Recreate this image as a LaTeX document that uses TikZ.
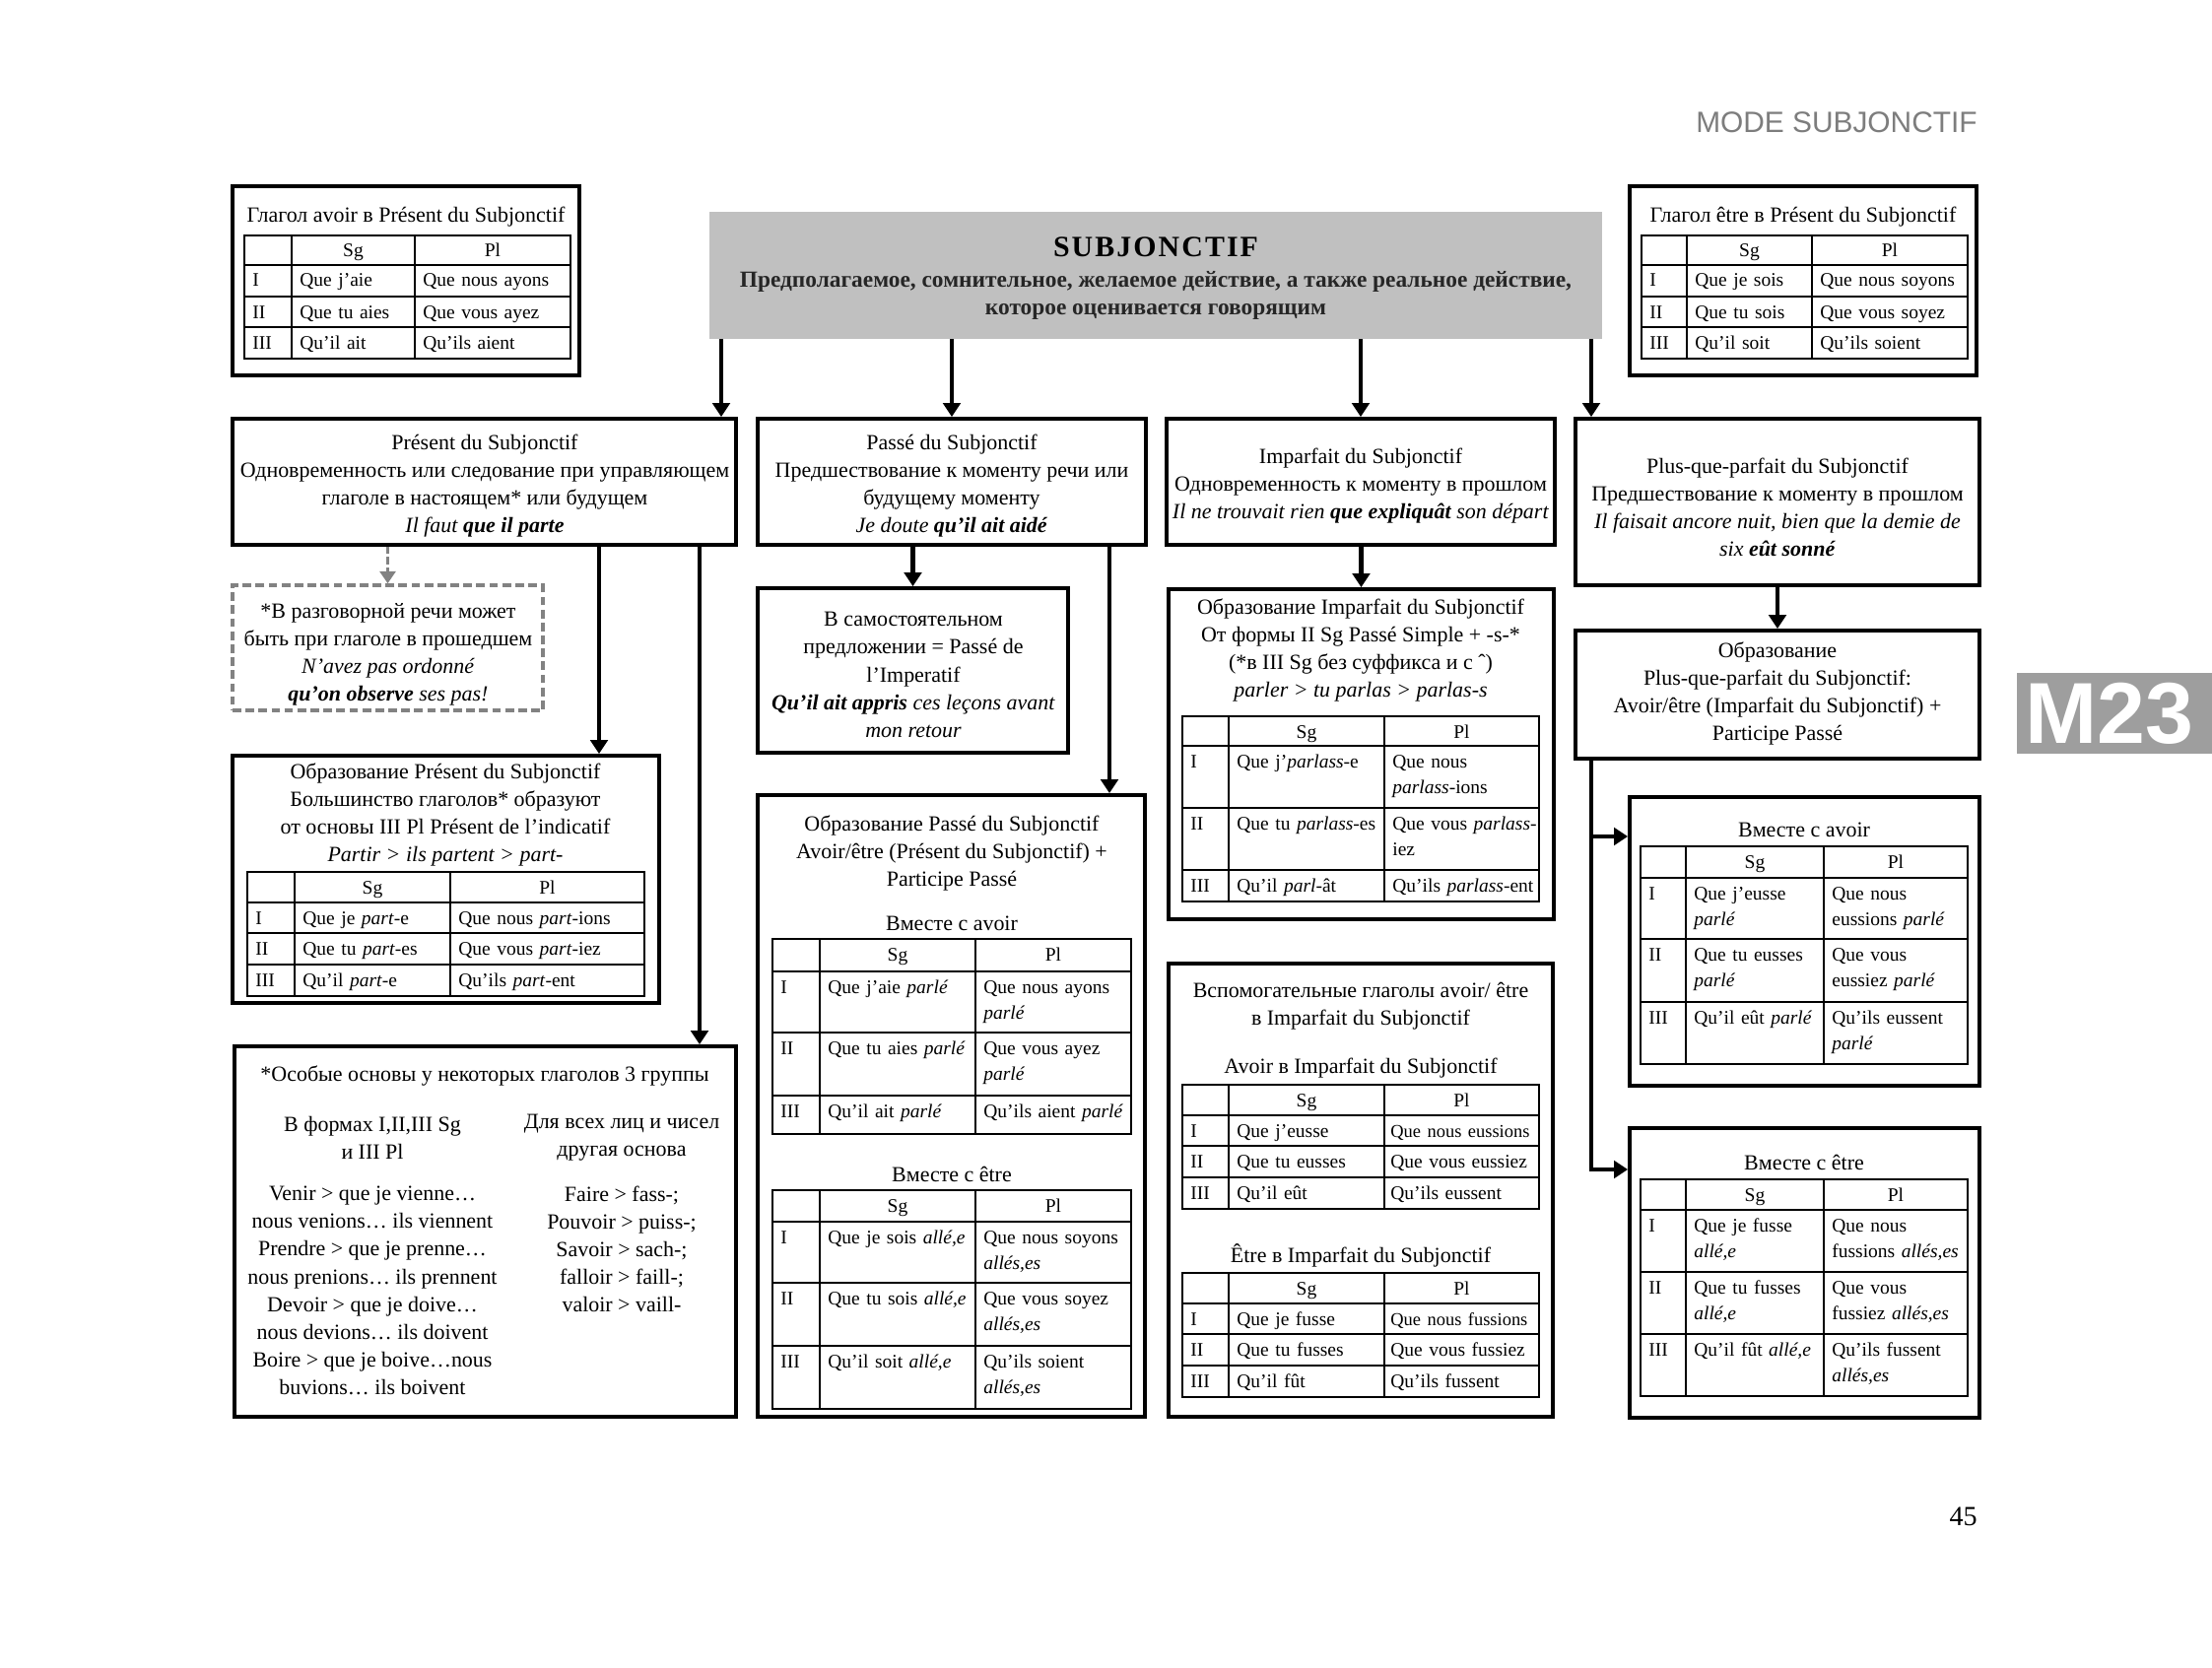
\documentclass[tikz,border=0pt]{standalone}
\usepackage{fontspec}
\setmainfont{Liberation Serif}
\setsansfont{Liberation Sans}
\usepackage{tikz}
\usetikzlibrary{arrows.meta,positioning,calc,fit}
\usepackage{xcolor}

\definecolor{hdrgray}{RGB}{192,192,192}
\definecolor{tabgray}{RGB}{158,158,158}
\definecolor{dashgray}{RGB}{130,130,130}
\definecolor{modegray}{RGB}{125,125,125}

\newcommand{\boxfont}{\fontsize{12.5}{16}\selectfont}
\newcommand{\cellfont}{\fontsize{11.1}{15.3}\selectfont}
\newcommand{\tightfont}{\fontsize{10.5}{15.3}\selectfont}

\tikzset{
  box/.style={draw, line width=2.2pt, inner sep=0pt},
  notebox/.style={draw=dashgray, dash pattern=on 5pt off 2.5pt, line width=2pt, inner sep=0pt},
  txt/.style={inner sep=0pt, align=center, font=\boxfont},
  cell/.style={inner sep=0pt, anchor=base west, text width=4cm, align=left, font=\cellfont},
  hd/.style={inner sep=0pt, anchor=base, font=\cellfont},
  tline/.style={line width=1.3pt},
  conn/.style={line width=2.4pt, -{Triangle[width=10pt,length=8pt]}},
  dconn/.style={draw=dashgray, dash pattern=on 4pt off 2pt, line width=2pt, -{Triangle[width=9pt,length=7pt]}}
}

% Sg/Pl grid: x0,x1,x2,x3, y0 (top), y1 (header), y2, y3, y4 (bottom)
\newcounter{tb}
\newcommand{\sgpl}[9]{%
  \stepcounter{tb}%
  \draw[tline] (#1,#5) rectangle (#4,#9);
  \draw[tline] (#1,#6) -- (#4,#6) (#1,#7) -- (#4,#7) (#1,#8) -- (#4,#8);
  \draw[tline] (#2,#5) -- (#2,#9) (#3,#5) -- (#3,#9);
  \node[hd] (t\thetb-sg) at ({(#2+#3)/2},{#5+22}) {Sg};
  \node[hd] (t\thetb-pl) at ({(#3+#4)/2},{#5+22}) {Pl};
  \node[cell] (t\thetb-i) at ({#1+8},{#6+22}) {I};
  \node[cell] (t\thetb-ii) at ({#1+8},{#7+22}) {II};
  \node[cell] (t\thetb-iii) at ({#1+8},{#8+22}) {III};
}

\begin{document}
\begin{tikzpicture}[x=0.02cm, y=-0.02cm]
\useasboundingbox (0,0) rectangle (2245,1693);

% page furniture
\node[anchor=base east, inner sep=0pt, font=\sffamily\fontsize{17}{20}\selectfont, text=modegray] (mode) at (2007,135) {MODE SUBJONCTIF};
\fill[tabgray] (2047,683) rectangle (2245,765);
\node[inner sep=0pt, font=\sffamily\bfseries\fontsize{50}{50}\selectfont, text=white] (tabm) at (2141,724) {M23};
\node[anchor=base east, inner sep=0pt, font=\fontsize{16}{18}\selectfont] (pagenum) at (2007,1548) {45};

% header
\node[fill=hdrgray, inner sep=0pt, fit={(720,215) (1626,344)}] (hdr) {};
\node[txt, anchor=base, font=\bfseries\fontsize{17}{20}\selectfont\addfontfeature{LetterSpace=7}] (title) at (1173,261) {SUBJONCTIF};
\node[txt, font=\bfseries\fontsize{13.3}{16}\selectfont, text=black!85] (def) at (1173,300) {Предполагаемое, сомнительное, желаемое действие, а также реальное действие,\\которое оценивается говорящим};

% avoir / etre tables
\node[box, fit={(236,189) (588,381)}] (avtab) {};
\node[txt] (avtit) at (412,220) {Глагол avoir в Présent du Subjonctif};
\sgpl{248}{296}{421}{579}{239}{269}{301}{332}{364}
\node[cell] (a1s) at (304,291) {Que j’aie};
\node[cell] (a1p) at (429,291) {Que nous ayons};
\node[cell] (a2s) at (304,323) {Que tu aies};
\node[cell] (a2p) at (429,323) {Que vous ayez};
\node[cell] (a3s) at (304,354) {Qu’il ait};
\node[cell] (a3p) at (429,354) {Qu’ils aient};

\node[box, fit={(1654,189) (2006,381)}] (ettab) {};
\node[txt] (ettit) at (1830,220) {Глагол être в Présent du Subjonctif};
\sgpl{1666}{1712}{1839}{1997}{239}{269}{301}{332}{364}
\node[cell] (b1s) at (1720,291) {Que je sois};
\node[cell] (b1p) at (1847,291) {Que nous soyons};
\node[cell] (b2s) at (1720,323) {Que tu sois};
\node[cell] (b2p) at (1847,323) {Que vous soyez};
\node[cell] (b3s) at (1720,354) {Qu’il soit};
\node[cell] (b3p) at (1847,354) {Qu’ils soient};

% first row
\node[box, fit={(236,425) (747,553)}] (pres) {};
\node[txt] (prestxt) at (492,493) {Présent du Subjonctif\\Одновременность или следование при управляющем\\глаголе в настоящем* или будущем\\\textit{Il faut \textbf{que il parte}}};
\node[box, fit={(769,425) (1163,553)}] (passe) {};
\node[txt] (passetxt) at (966,493) {Passé du Subjonctif\\Предшествование к моменту речи или\\будущему моменту\\\textit{Je doute \textbf{qu’il ait aidé}}};
\node[box, fit={(1184,425) (1578,553)}] (impf) {};
\node[txt] (impftxt) at (1381,493) {Imparfait du Subjonctif\\Одновременность к моменту в прошлом\\\textit{Il ne trouvait rien \textbf{que expliquât} son départ}};
\node[box, fit={(1599,425) (2009,594)}] (pqp) {};
\node[txt] (pqptxt) at (1804,515) {Plus-que-parfait du Subjonctif\\Предшествование к моменту в прошлом\\\textit{Il faisait ancore nuit, bien que la demie de}\\\textit{six \textbf{eût sonné}}};

% Present column
\node[notebox, fit={(236,594) (551,721)}] (note) {};
\node[txt] (notetxt) at (394,664) {*В разговорной речи может\\быть при глаголе в прошедшем\\\textit{N’avez pas ordonné}\\\textit{\textbf{qu’on observe} ses pas!}};

\node[box, fit={(236,767) (669,1018)}] (presform) {};
\node[txt] (presformtxt) at (452,827) {Образование Présent du Subjonctif\\Большинство глаголов* образуют\\от основы III Pl Présent de l’indicatif\\\textit{Partir > ils partent > part-}};
\sgpl{251}{299}{457}{654}{885}{916}{947}{979}{1011}
\node[cell] (c1s) at (307,938) {Que je \textit{part}-e};
\node[cell] (c1p) at (465,938) {Que nous \textit{part}-ions};
\node[cell] (c2s) at (307,969) {Que tu \textit{part}-es};
\node[cell] (c2p) at (465,969) {Que vous \textit{part}-iez};
\node[cell] (c3s) at (307,1001) {Qu’il \textit{part}-e};
\node[cell] (c3p) at (465,1001) {Qu’ils \textit{part}-ent};

\node[box, fit={(238,1062) (747,1438)}] (special) {};
\node[txt] (spectit) at (492,1092) {*Особые основы у некоторых глаголов 3 группы};
\node[txt] (specl) at (378,1155) {В формах I,II,III Sg\\и III Pl};
\node[txt] (specr) at (631,1155) {Для всех лиц и чисел\\другая основа};
\node[txt] (speclist) at (378,1310) {Venir > que je vienne…\\nous venions… ils viennent\\Prendre > que je prenne…\\nous prenions… ils prennent\\Devoir > que je doive…\\nous devions… ils doivent\\Boire > que je boive…nous\\buvions… ils boivent};
\node[txt] (specrlist) at (631,1268) {Faire > fass-;\\Pouvoir > puiss-;\\Savoir > sach-;\\falloir > faill-;\\valoir > vaill-};

% Passe column
\node[box, fit={(769,597) (1084,764)}] (indep) {};
\node[txt] (indeptxt) at (927,685) {В самостоятельном\\предложении = Passé de\\l’Imperatif\\\textit{\textbf{Qu’il ait appris} ces leçons avant}\\\textit{mon retour}};

\node[box, fit={(769,807) (1162,1438)}] (passeform) {};
\node[txt] (passeformtxt) at (966,866) {Образование Passé du Subjonctif\\Avoir/être (Présent du Subjonctif) +\\Participe Passé};
\node[txt] (pav) at (966,937) {Вместе с avoir};
\sgpl{784}{832}{990}{1148}{953}{986}{1048}{1112}{1151}
\node[cell] (d1s) at (840,1008) {Que j’aie \textit{parlé}};
\node[cell] (d1p) at (998,1008) {Que nous ayons\\\textit{parlé}};
\node[cell] (d2s) at (840,1070) {Que tu aies \textit{parlé}};
\node[cell] (d2p) at (998,1070) {Que vous ayez\\\textit{parlé}};
\node[cell] (d3s) at (840,1134) {Qu’il ait \textit{parlé}};
\node[cell] (d3p) at (998,1134) {Qu’ils aient \textit{parlé}};
\node[txt] (pet) at (966,1192) {Вместе с être};
\sgpl{784}{832}{990}{1148}{1208}{1240}{1302}{1366}{1430}
\node[cell] (e1s) at (840,1262) {Que je sois \textit{allé,e}};
\node[cell] (e1p) at (998,1262) {Que nous soyons\\\textit{allés,es}};
\node[cell] (e2s) at (840,1324) {Que tu sois \textit{allé,e}};
\node[cell] (e2p) at (998,1324) {Que vous soyez\\\textit{allés,es}};
\node[cell] (e3s) at (840,1388) {Qu’il soit \textit{allé,e}};
\node[cell] (e3p) at (998,1388) {Qu’ils soient\\\textit{allés,es}};

% Imparfait column
\node[box, fit={(1186,598) (1577,933)}] (impfform) {};
\node[txt] (impfformtxt) at (1381,660) {Образование Imparfait du Subjonctif\\От формы II Sg Passé Simple + -s-*\\(*в III Sg без суффикса и с {\char"02C6})\\\textit{parler > tu parlas > parlas-s}};
\sgpl{1200}{1247}{1405}{1562}{727}{757}{820}{883}{915}
\node[cell] (f1s) at (1255,779) {Que j’\textit{parlass}-e};
\node[cell] (f1p) at (1413,779) {Que nous\\\textit{parlass}-ions};
\node[cell] (f2s) at (1255,842) {Que tu \textit{parlass}-es};
\node[cell] (f2p) at (1413,842) {Que vous \textit{parlass}-\\iez};
\node[cell] (f3s) at (1255,905) {Qu’il \textit{parl}-ât};
\node[cell] (f3p) at (1413,905) {Qu’ils \textit{parlass}-ent};

\node[box, fit={(1186,978) (1576,1438)}] (impaux) {};
\node[txt] (impauxtxt) at (1381,1021) {Вспомогательные глаголы avoir/ être\\в Imparfait du Subjonctif};
\node[txt] (auxav) at (1381,1084) {Avoir в Imparfait du Subjonctif};
\sgpl{1200}{1247}{1405}{1562}{1101}{1132}{1163}{1195}{1227}
\node[cell] (g1s) at (1255,1154) {Que j’eusse};
\node[cell] (g1p) at (1411,1154) {\tightfont Que nous eussions};
\node[cell] (g2s) at (1255,1185) {Que tu eusses};
\node[cell] (g2p) at (1411,1185) {Que vous eussiez};
\node[cell] (g3s) at (1255,1217) {Qu’il eût};
\node[cell] (g3p) at (1411,1217) {Qu’ils eussent};
\node[txt] (auxet) at (1381,1274) {Être в Imparfait du Subjonctif};
\sgpl{1200}{1247}{1405}{1562}{1292}{1323}{1354}{1386}{1418}
\node[cell] (h1s) at (1255,1345) {Que je fusse};
\node[cell] (h1p) at (1411,1345) {\tightfont Que nous fussions};
\node[cell] (h2s) at (1255,1376) {Que tu fusses};
\node[cell] (h2p) at (1411,1376) {Que vous fussiez};
\node[cell] (h3s) at (1255,1408) {Qu’il fût};
\node[cell] (h3p) at (1411,1408) {Qu’ils fussent};

% Plus-que-parfait column
\node[box, fit={(1599,640) (2009,770)}] (pqpform) {};
\node[txt] (pqpformtxt) at (1804,704) {Образование\\Plus-que-parfait du Subjonctif:\\Avoir/être (Imparfait du Subjonctif) +\\Participe Passé};

\node[box, fit={(1654,809) (2009,1102)}] (pqpav) {};
\node[txt] (pqpavtit) at (1831,842) {Вместе с avoir};
\sgpl{1665}{1711}{1851}{1997}{859}{891}{953}{1017}{1080}
\node[cell] (i1s) at (1719,913) {Que j’eusse\\\textit{parlé}};
\node[cell] (i1p) at (1859,913) {Que nous\\eussions \textit{parlé}};
\node[cell] (i2s) at (1719,975) {Que tu eusses\\\textit{parlé}};
\node[cell] (i2p) at (1859,975) {Que vous\\eussiez \textit{parlé}};
\node[cell] (i3s) at (1719,1039) {Qu’il eût \textit{parlé}};
\node[cell] (i3p) at (1859,1039) {Qu’ils eussent\\\textit{parlé}};

\node[box, fit={(1654,1145) (2009,1439)}] (pqpet) {};
\node[txt] (pqpettit) at (1831,1180) {Вместе с être};
\sgpl{1665}{1711}{1851}{1997}{1197}{1228}{1291}{1354}{1417}
\node[cell] (j1s) at (1719,1250) {Que je fusse\\\textit{allé,e}};
\node[cell] (j1p) at (1859,1250) {Que nous\\fussions \textit{allés,es}};
\node[cell] (j2s) at (1719,1313) {Que tu fusses\\\textit{allé,e}};
\node[cell] (j2p) at (1859,1313) {Que vous\\fussiez \textit{allés,es}};
\node[cell] (j3s) at (1719,1376) {Qu’il fût \textit{allé,e}};
\node[cell] (j3p) at (1859,1376) {Qu’ils fussent\\\textit{allés,es}};

% connectors
\coordinate (xpres) at (732,0);
\coordinate (xpqp) at (1615,0);
\coordinate (xform) at (608,0);
\coordinate (xspec) at (710,0);
\coordinate (xpform) at (1126,0);
\coordinate (brA) at (1615,849);
\coordinate (brB) at (1615,1187);

\draw[conn] (hdr.south -| xpres) -- (pres.north -| xpres);
\draw[conn] (hdr.south -| passe.north) -- (passe.north);
\draw[conn] (hdr.south -| impf.north) -- (impf.north);
\draw[conn] (hdr.south -| xpqp) -- (pqp.north -| xpqp);

\draw[dconn] (pres.south -| note.north) -- (note.north);
\draw[conn] (pres.south -| xform) -- (presform.north -| xform);
\draw[conn] (pres.south -| xspec) -- (special.north -| xspec);

\draw[conn] (passe.south -| indep.north) -- (indep.north);
\draw[conn] (passe.south -| xpform) -- (passeform.north -| xpform);

\draw[conn] (impf.south -| impfform.north) -- (impfform.north);

\draw[conn] (pqp.south -| pqpform.north) -- (pqpform.north);
\draw[conn] (pqpform.south -| brB) -- (brB) -- (pqpet.west |- brB);
\draw[conn] (brA) -- (pqpav.west |- brA);

\end{tikzpicture}
\end{document}
